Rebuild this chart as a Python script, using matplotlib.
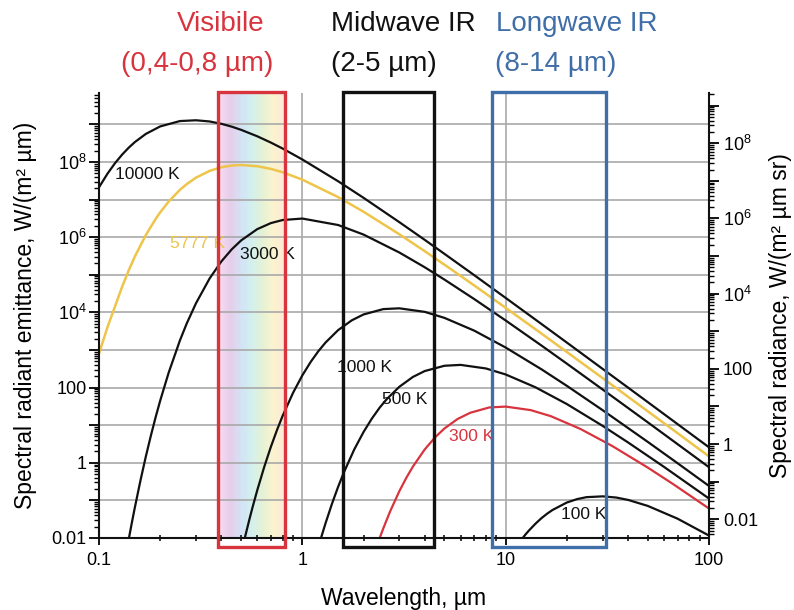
import numpy as np
import matplotlib
matplotlib.use("Agg")
import matplotlib.pyplot as plt
from matplotlib.patches import Rectangle
from matplotlib.colors import LinearSegmentedColormap
import matplotlib.transforms as mtransforms
from matplotlib.ticker import FixedLocator, FuncFormatter, LogLocator, NullFormatter

plt.rcParams['font.family'] = ['Liberation Sans', 'DejaVu Sans']
plt.rcParams['mathtext.fontset'] = 'custom'
plt.rcParams['mathtext.rm'] = 'Liberation Sans'
plt.rcParams['mathtext.it'] = 'Liberation Sans:italic'
plt.rcParams['mathtext.bf'] = 'Liberation Sans:bold'

# ---------------- data ----------------
wl_10000 = [0.1, 0.11, 0.12, 0.13, 0.14, 0.15, 0.17, 0.2, 0.25, 0.3, 0.35, 0.4, 0.45, 0.5, 0.6, 0.7, 0.8, 1,
            1.5, 2, 3, 4, 5, 7, 10, 15, 20, 30, 50, 70, 100]
em_10000 = [2.11e7, 4.84e7, 9.33e7, 1.57e8, 2.39e8, 3.36e8, 5.56e8, 8.79e8, 1.22e9, 1.28e9, 1.19e9, 1.03e9,
            8.65e8, 7.13e8, 4.81e8, 3.27e8, 2.27e8, 1.16e8, 3.06e7, 1.11e7, 2.50e6, 8.45e5, 3.59e5, 9.77e4,
            2.42e4, 4.90e3, 1.57e3, 313, 41.0, 10.7, 2.58]

wl_5777 = [0.1, 0.11, 0.12, 0.13, 0.14, 0.15, 0.17, 0.19, 0.2, 0.22, 0.25, 0.27, 0.3, 0.35, 0.4, 0.45, 0.5,
           0.6, 0.7, 0.8, 1, 1.5, 2, 3, 4, 5, 7, 10, 15, 20, 30, 50, 70, 100]
em_5777 = [800, 4.0e3, 1.46e4, 4.82e4, 1.31e5, 3.03e5, 1.14e6, 3.06e6, 4.57e6, 8.79e6, 1.81e7, 2.57e7, 3.82e7,
           5.78e7, 7.24e7, 8.04e7, 8.28e7, 7.69e7, 6.53e7, 5.32e7, 3.38e7, 1.16e7, 4.73e6, 1.19e6, 4.24e5,
           1.85e5, 5.21e4, 1.32e4, 2.73e3, 881, 178, 23.4, 6.15, 1.48]

wl_3000 = [0.14, 0.145, 0.15, 0.16, 0.17, 0.18, 0.19, 0.2, 0.22, 0.25, 0.27, 0.3, 0.35, 0.4, 0.45, 0.5, 0.6,
           0.7, 0.8, 1, 1.5, 2, 3, 4, 5, 7, 10, 15, 20, 30, 50, 70, 100]
em_3000 = [9.2e-3, 0.0252, 0.064, 0.342, 1.48, 5.31, 16.5, 45.0, 247, 1.79e3, 5.04e3, 1.75e4, 7.97e4, 2.27e5,
           4.76e5, 8.17e5, 1.63e6, 2.36e6, 2.85e6, 3.12e6, 2.10e6, 1.17e6, 3.90e5, 1.58e5, 7.43e4, 2.26e4,
           6.08e3, 1.31e3, 432, 88.7, 11.9, 3.14, 0.762]

wl_1000 = [0.52, 0.55, 0.57, 0.6, 0.65, 0.7, 0.75, 0.8, 0.9, 1, 1.1, 1.2, 1.3, 1.5, 1.75, 2, 2.5, 3, 4, 5, 7,
           10, 15, 20, 30, 50, 70, 100]
em_1000 = [9.5e-3, 0.0324, 0.0678, 0.185, 0.785, 2.64, 7.35, 17.7, 72.3, 211, 484, 933, 1.57e3, 3.37e3,
           6.13e3, 8.79e3, 1.22e4, 1.28e4, 1.03e4, 7.13e3, 3.27e3, 1.16e3, 306, 111, 25.0, 3.59, 0.977, 0.242]

wl_500 = [1.2, 1.25, 1.3, 1.4, 1.5, 1.6, 1.8, 2, 2.2, 2.4, 2.6, 3, 3.5, 4, 5, 6, 8, 10, 14, 20, 30, 40, 60, 100]
em_500 = [5.8e-3, 0.0123, 0.0245, 0.0824, 0.230, 0.552, 2.26, 6.59, 15.1, 29.2, 49.2, 105, 192, 275, 380, 401,
          322, 223, 102, 36.4, 9.57, 3.47, 0.782, 0.112]

wl_300 = [2.4, 2.5, 2.7, 3, 3.25, 3.5, 4, 4.5, 5, 5.8, 6.7, 8.3, 10, 13.3, 16.7, 23.3, 33.3, 50, 66.7, 100]
em_300 = [9.9e-3, 0.0179, 0.0504, 0.176, 0.403, 0.798, 2.27, 4.77, 8.18, 14.6, 21.4, 29.6, 31.2, 25.1, 17.3,
          7.96, 2.83, 0.745, 0.270, 0.0608]

wl_100 = [12, 12.5, 13, 14, 15, 16, 17, 20, 22.5, 25, 30, 35, 40, 50, 70, 100]
em_100 = [9.3e-3, 0.0123, 0.0157, 0.0239, 0.0337, 0.0444, 0.0556, 0.0879, 0.1085, 0.122, 0.128, 0.119, 0.103,
          0.0713, 0.0327, 0.0116]

curve_names = ["10000 K", "5777 K", "3000 K", "1000 K", "500 K", "300 K", "100 K"]
label_x = [0.1198, 0.223, 0.491, 1.484, 2.47, 5.26, 18.8]
label_y = [4.52e7, 6.68e5, 3.41e5, 344, 48.6, 5.08, 0.0434]

band_titles = ["Visibile", "Midwave IR", "Longwave IR"]
band_ranges = ["(0,4-0,8 µm)", "(2-5 µm)", "(8-14 µm)"]
band_lo = [0.385, 1.59, 8.53]
band_hi = [0.822, 4.46, 31.0]

xticks = [0.1, 1, 10, 100]
xticklabels = ["0.1", "1", "10", "100"]

# ---------------- styling ----------------
BLACK = "#111111"
YELLOW = "#eec44a"
RED = "#d8343e"
BLUE = "#3f6ea8"
GRID = "#a9a9a9"
band_colors = [RED, BLACK, BLUE]

W, H = 794, 610
fig = plt.figure(figsize=(W / 100, H / 100), dpi=100)
ax = fig.add_axes([99 / W, 1 - 538 / H, 610 / W, 445 / H])
ax.set_xscale('log')
ax.set_yscale('log')
ymin, ymax = 0.01, 6.8e9
ax.set_xlim(0.1, 100)
ax.set_ylim(ymin, ymax)

# rainbow gradient in the visible band
rainbow = LinearSegmentedColormap.from_list(
    "pastel_rainbow",
    [(0.0, "#f7dcef"), (0.18, "#e6cdea"), (0.36, "#d2e4f6"), (0.5, "#d3efee"),
     (0.66, "#e3f2d6"), (0.82, "#fbf3cf"), (1.0, "#fde9d8")])
blend = mtransforms.blended_transform_factory(ax.transData, ax.transAxes)
n_strips = 90
l0, l1 = np.log10(band_lo[0]), np.log10(band_hi[0])
edges = np.logspace(l0, l1, n_strips + 1)
for i in range(n_strips):
    ax.add_patch(Rectangle((edges[i], 0), edges[i + 1] - edges[i], 1, transform=blend,
                           facecolor=rainbow(i / (n_strips - 1)), edgecolor='none',
                           lw=0, zorder=0.2))

# grid
ax.set_axisbelow(True)
ax.grid(True, which='major', axis='both', color=GRID, lw=1.2)

# curves
ax.plot(wl_10000, em_10000, color=BLACK, lw=1.6, zorder=2)
ax.plot(wl_3000, em_3000, color=BLACK, lw=1.6, zorder=2)
ax.plot(wl_1000, em_1000, color=BLACK, lw=1.6, zorder=2)
ax.plot(wl_500, em_500, color=BLACK, lw=1.6, zorder=2)
ax.plot(wl_100, em_100, color=BLACK, lw=1.6, zorder=2)
ax.plot(wl_300, em_300, color=RED, lw=1.6, zorder=2.1)
ax.plot(wl_5777, em_5777, color=YELLOW, lw=1.8, zorder=2.1)

label_colors = [BLACK, YELLOW, BLACK, BLACK, BLACK, RED, BLACK]
for name, lx, ly, c in zip(curve_names, label_x, label_y, label_colors):
    ax.text(lx, ly, name, color=c, fontsize=12.5, ha='left', va='center', zorder=3)

# band boxes
for lo, hi, c in zip(band_lo, band_hi, band_colors):
    ax.add_patch(Rectangle((lo, -0.02), hi - lo, 1.022, transform=blend, fill=False,
                           edgecolor=c, lw=2.4, zorder=4, clip_on=False))

# band titles
title_x1 = [221, 403, 577]
title_x2 = [197, 384, 556]
for t, r, c, x1, x2 in zip(band_titles, band_ranges, band_colors, title_x1, title_x2):
    fig.text(x1 / W, 1 - 24 / H, t, color=c, fontsize=20, ha='center', va='center')
    fig.text(x2 / W, 1 - 64 / H, r, color=c, fontsize=20, ha='center', va='center')

# axes & ticks
for s in ['top', 'right']:
    ax.spines[s].set_visible(False)
for s in ['left', 'bottom']:
    ax.spines[s].set_linewidth(1.5)
    ax.spines[s].set_color(BLACK)

ax.xaxis.set_major_locator(FixedLocator(xticks))
ax.set_xticklabels(xticklabels)
ax.xaxis.set_minor_locator(LogLocator(base=10, subs=np.arange(2, 10), numticks=100))
ax.xaxis.set_minor_formatter(NullFormatter())
ax.tick_params(axis='x', which='major', direction='out', length=5, width=1.3, pad=5, labelsize=13)
ax.tick_params(axis='x', which='minor', direction='inout', length=5, width=1.1)


def ylab(v, pos):
    k = int(round(np.log10(v)))
    if k % 2:
        return ""
    if k == -2:
        return "0.01"
    if k == 0:
        return "1"
    if k == 2:
        return "100"
    return r"$\mathregular{10^{%d}}$" % k


ax.yaxis.set_major_locator(FixedLocator([10.0 ** k for k in range(-2, 10)]))
ax.yaxis.set_major_formatter(FuncFormatter(ylab))
ax.yaxis.set_minor_locator(LogLocator(base=10, subs=np.arange(2, 10), numticks=100))
ax.yaxis.set_minor_formatter(NullFormatter())
ax.tick_params(axis='y', which='major', direction='out', length=7, width=1.3, pad=2, labelsize=13)
ax.tick_params(axis='y', which='minor', direction='out', length=3.5, width=1.0)

ax.set_xlabel("Wavelength, µm", fontsize=16.5, labelpad=13)
ax.set_ylabel("Spectral radiant emittance, W/(m² µm)", fontsize=16.5, labelpad=10)

# right axis: radiance = emittance / pi
ax2 = ax.twinx()
ax2.set_yscale('log')
ax2.set_ylim(ymin / np.pi, ymax / np.pi)
for s in ['top', 'left', 'bottom']:
    ax2.spines[s].set_visible(False)
ax2.spines['right'].set_linewidth(1.5)
ax2.spines['right'].set_color(BLACK)
ax2.yaxis.set_major_locator(FixedLocator([10.0 ** k for k in range(-3, 10)]))
ax2.yaxis.set_major_formatter(FuncFormatter(ylab))
ax2.yaxis.set_minor_locator(LogLocator(base=10, subs=np.arange(2, 10), numticks=100))
ax2.yaxis.set_minor_formatter(NullFormatter())
ax2.tick_params(axis='y', which='major', direction='out', length=7, width=1.3, pad=3, labelsize=13)
ax2.tick_params(axis='y', which='minor', direction='out', length=3.5, width=1.0)
ax2.set_ylabel("Spectral radiance, W/(m² µm sr)", fontsize=16.5, rotation=90, labelpad=8)

fig.savefig("out.png", dpi=100)
